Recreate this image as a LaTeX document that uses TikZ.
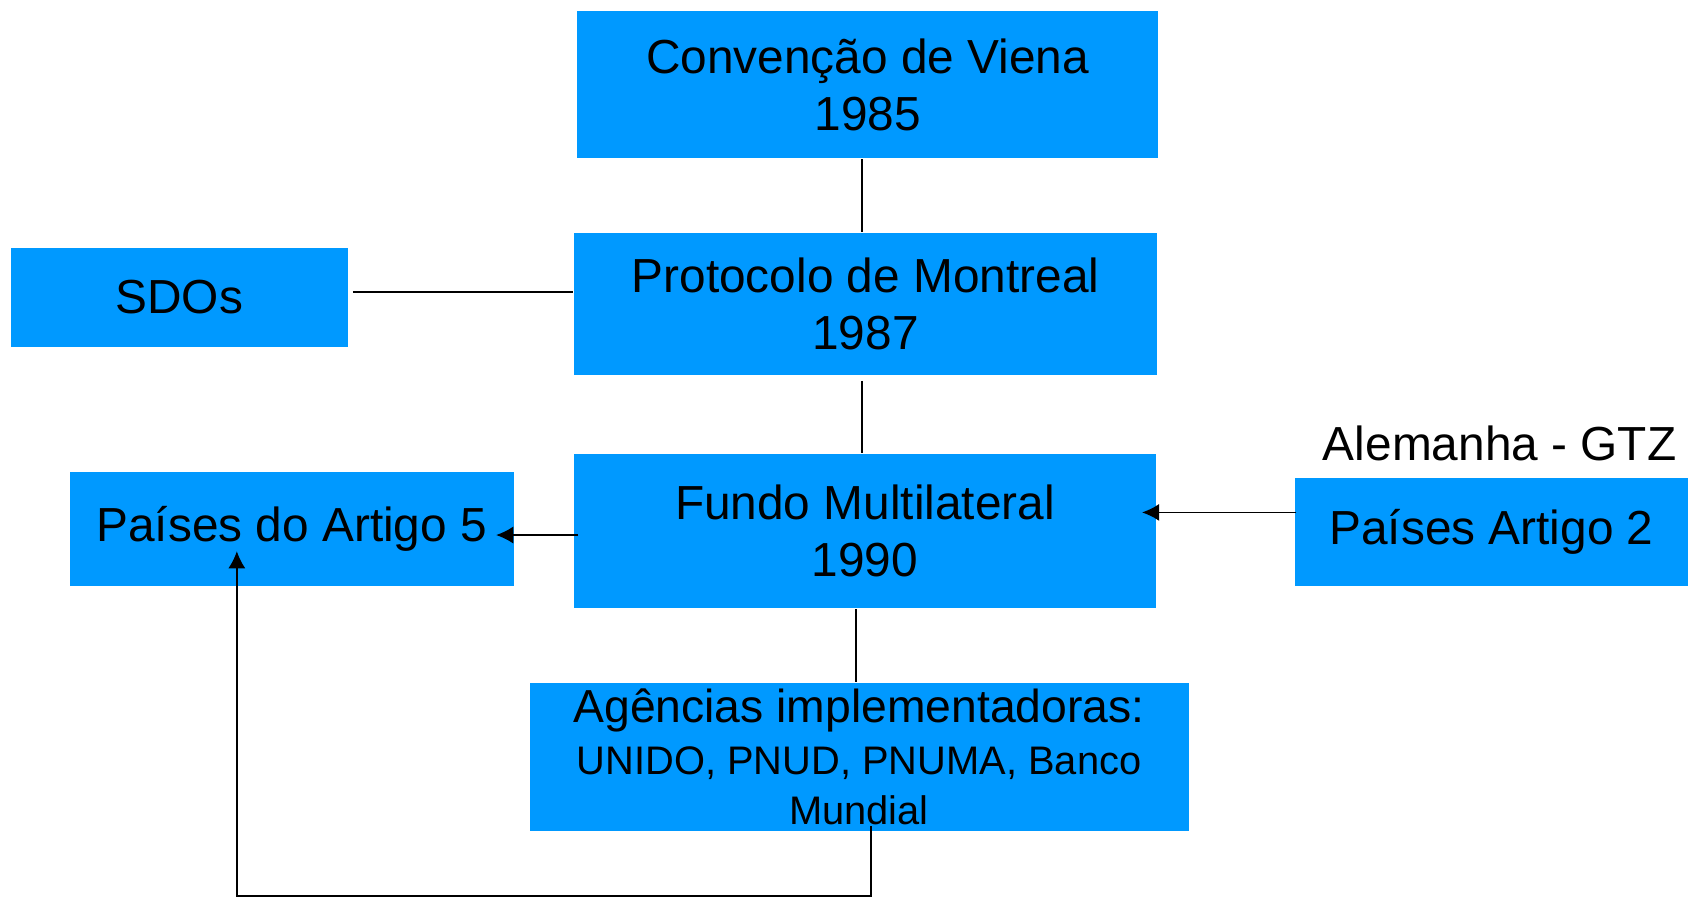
\documentclass[tikz,border=0pt]{standalone}
\usepackage{fontspec}
\setmainfont{Liberation Sans}
\usetikzlibrary{arrows.meta}
\definecolor{boxblue}{RGB}{0,153,255}
\begin{document}
\begin{tikzpicture}[x=0.5pt, y=-0.5pt, line width=0.8pt,
    every node/.style={inner sep=0pt, align=center, font=\fontsize{22.2}{26.5}\selectfont},
    blue box/.style={fill=boxblue},
    arr/.style={-{Latex[length=8pt,width=8pt]}}]
				\useasboundingbox (0,0) rectangle (1568,835);
				\node[blue box, minimum width=270pt, minimum height=68.5pt] (conv) at (806,78.5) {Convenção de Viena\\1985};
				\node[blue box, minimum width=271pt, minimum height=66pt] (prot) at (804,282) {Protocolo de Montreal\\1987};
				\node[blue box, minimum width=156.5pt, minimum height=46pt] (sdo) at (166.5,276) {SDOs};
				\node[blue box, minimum width=270.5pt, minimum height=71.5pt] (fundo) at (803.5,493.5) {Fundo Multilateral\\1990};
				\node[blue box, minimum width=206pt, minimum height=53pt] (art5) at (271,491) {Países do Artigo 5};
				\node[blue box, minimum width=182.5pt, minimum height=50pt] (art2) at (1385.5,494) {Países Artigo 2};
				\node[anchor=base] (gtz) at (1393,428) {Alemanha - GTZ};
				\node[blue box, minimum width=306pt, minimum height=68.5pt, font=\fontsize{18.5}{22}\selectfont] (agen) at (798,703)
				{{\fontsize{21.5}{24}\selectfont Agências implementadoras:}\\[2pt]UNIDO, PNUD, PNUMA, Banco\\[1pt]Mundial};
				\coordinate (bot) at (0,832);
				\draw ([xshift=-2.5pt]conv.south) -- ([xshift=-1.5pt]prot.north);
				\draw ([xshift=-1.5pt,yshift=-2.5pt]prot.south) -- ([xshift=-1.25pt]fundo.north);
				\draw ([xshift=2pt,yshift=2.5pt]sdo.east) -- ([yshift=2.5pt]sdo.east -| prot.west);
				\draw ([xshift=-1.5pt]agen.north |- fundo.south) -- ([xshift=-1.5pt]agen.north);
				\draw[arr] ([xshift=2.5pt,yshift=-1.75pt]fundo.west) -- ([xshift=-8.5pt,yshift=-1.75pt]fundo.west -| art5.east);
				\draw[arr] ([xshift=1pt,yshift=9pt]art2.west) -- ([xshift=-7pt,yshift=9pt]art2.west -| fundo.east);
				\draw[arr] ([xshift=5.5pt,yshift=2.5pt]agen.south) -- ([xshift=5.5pt]agen.south |- bot) -| ([xshift=-25.5pt,yshift=-10.5pt]art5.center);
\end{tikzpicture}
\end{document}
